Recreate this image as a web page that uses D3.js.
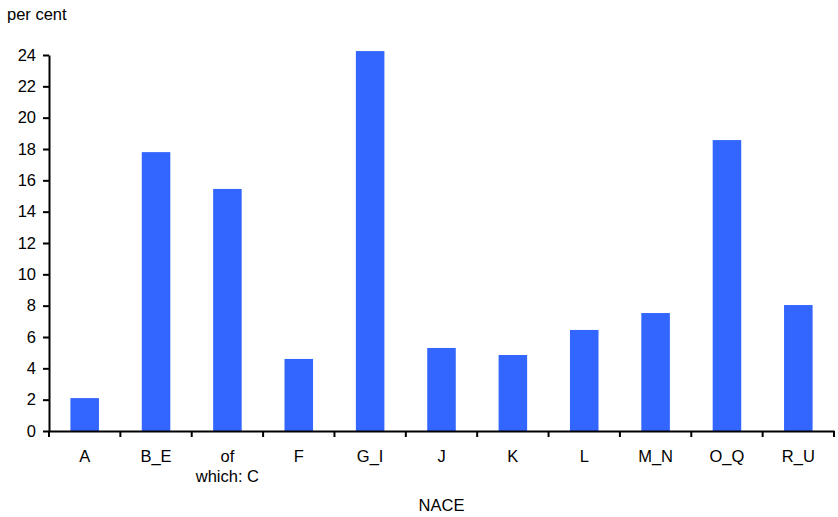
<!DOCTYPE html>
<html><head><meta charset="utf-8">
<script src="https://cdn.jsdelivr.net/npm/d3@7"></script>
<style>body{margin:0;background:#fff}svg{display:block}text{font-family:"Liberation Sans",Arial,sans-serif;fill:#000}</style>
</head><body>
<svg id="c" width="838" height="517"></svg>
<script>
const categories = ["A","B_E","of which: C","F","G_I","J","K","L","M_N","O_Q","R_U"];
const values = [2.1,17.8,15.45,4.6,24.25,5.3,4.85,6.45,7.53,18.57,8.04];
const yTicks = [0,2,4,6,8,10,12,14,16,18,20,22,24];
const yLabel = "per cent";
const xLabel = "NACE";

const svg = d3.select("#c");
const m = {l:49, r:4, t:55, b:86};
const W = 838, H = 517;
const FS = 16.5;
const x = d3.scaleBand().domain(categories).range([m.l, W - m.r]).paddingInner(0).paddingOuter(0);
const y = d3.scaleLinear().domain([0,24]).range([431, 55]);

svg.selectAll("rect.bar").data(values).join("rect").attr("class","bar")
  .attr("x",(d,i)=>x(categories[i]) + x.bandwidth()*0.3)
  .attr("width", x.bandwidth()*0.4)
  .attr("y", d=>y(d)).attr("height", d=>y(0)-y(d))
  .attr("fill","#3366FF");

// y axis
const ya = svg.append("g").attr("transform",`translate(${m.l},0)`)
  .call(d3.axisLeft(y).tickValues(yTicks).tickSize(6).tickPadding(7).tickSizeOuter(0));
ya.select(".domain").attr("stroke","#000").attr("stroke-width",2);
ya.selectAll(".tick line").attr("stroke","#000").attr("stroke-width",2);
ya.selectAll(".tick text").attr("font-size",FS).attr("font-family","Liberation Sans, Arial, sans-serif");

// x axis
const xa = svg.append("g").attr("transform",`translate(0,${y(0)})`)
  .call(d3.axisBottom(x).tickSize(0).tickPadding(0).tickFormat(""));
xa.select(".domain").attr("stroke","#000").attr("stroke-width",2);
const edges = categories.map(c=>x(c)).concat([x(categories[categories.length-1])+x.bandwidth()]);
xa.selectAll("line.edge").data(edges).join("line").attr("class","edge")
  .attr("x1",d=>d).attr("x2",d=>d).attr("y1",0).attr("y2",6)
  .attr("stroke","#000").attr("stroke-width",2);
const lab = xa.selectAll("text.cat").data(categories).join("text").attr("class","cat")
  .attr("x",d=>x(d)+x.bandwidth()/2).attr("y",31)
  .attr("text-anchor","middle").attr("font-size",FS);
lab.each(function(d){
  const t = d3.select(this);
  const parts = d === "of which: C" ? ["of","which: C"] : [d];
  parts.forEach((p,i)=>t.append("tspan").attr("x",x(d)+x.bandwidth()/2).attr("dy", i===0?0:20).text(p));
});

svg.append("text").attr("x",7).attr("y",20).attr("font-size",FS).text(yLabel);
svg.append("text").attr("x",(m.l + W - m.r)/2).attr("y",511).attr("text-anchor","middle").attr("font-size",FS).text(xLabel);
</script>
</body></html>
